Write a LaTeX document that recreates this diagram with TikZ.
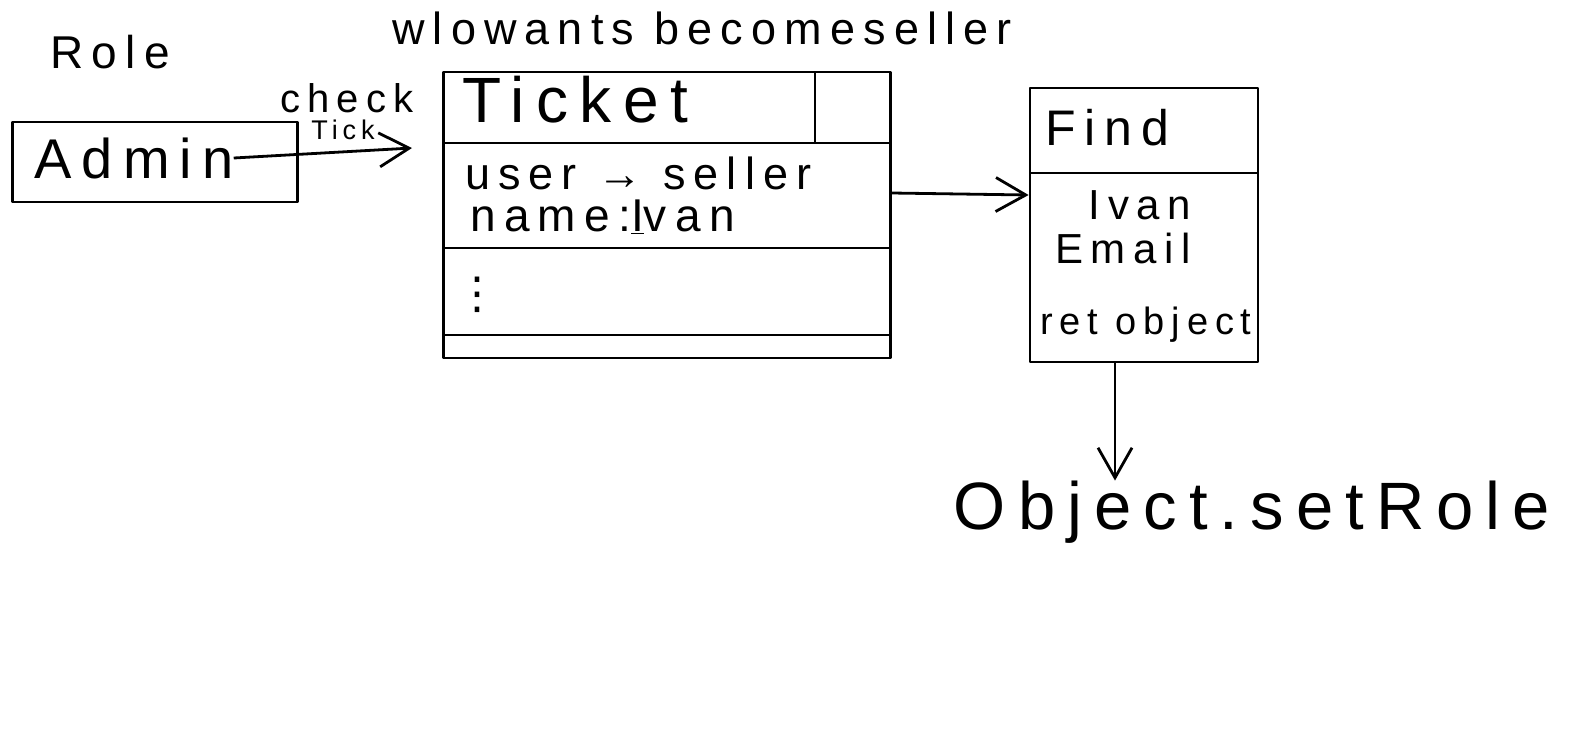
\documentclass[tikz,border=0pt]{standalone}
\usepackage{fontspec}
\newfontfamily\hand[LetterSpace=18]{Liberation Sans}
\newfontfamily\symfont{DejaVu Sans}
\usetikzlibrary{arrows.meta}

\tikzset{
  sketch/.style={line width=2.8pt, line join=round},
  barb/.style={sketch, -{Straight Barb[length=30pt,width=34pt,line width=2.8pt]}},
  boxnode/.style={draw, sketch, rectangle, inner sep=0pt},
  txt/.style={font=\hand\fontsize{#1}{#1}\selectfont, inner sep=0pt},
}

\begin{document}
\begin{tikzpicture}[x=1pt, y=-1pt]
  \useasboundingbox (0,0) rectangle (1583,740);

  % admin side
  \node[txt=46] (role) at (110,52) {Role};
  \node[boxnode, minimum width=285pt, minimum height=80pt] (adminbox) at (155,162) {};
  \node[txt=56] (admin) at (134,158) {Admin};
  \node[txt=40] (check) at (347,98) {check};
  \node[txt=27] (tick) at (343,130) {Tick};
  \coordinate (tickin) at (412,148);
  \draw[barb] (admin.east) -- (tickin);

  % ticket
  \node[txt=45] (who) at (702,28) {wlowants becomeseller};
  \node[boxnode, minimum width=447pt, minimum height=286pt] (ticket) at (667,215) {};
  \draw[sketch] (815,72) -- (815,143);
  \draw[sketch] (443,143) -- (890,143);
  \draw[sketch] (443,248) -- (890,248);
  \draw[sketch] (443,335) -- (890,335);
  \node[txt=64, anchor=west] (tickethead) at (462,100) {Ticket};
  \node[txt=45, anchor=west] (userrow) at (465,173) {user → seller};
  \node[txt=46, anchor=west] (namerow) at (470,217) {name:\underline{I}van};
  \node[inner sep=0pt, font=\symfont\fontsize{44}{44}\selectfont] (dots) at (477,295) {⋮};

  % find
  \node[boxnode, minimum width=228pt, minimum height=274pt] (find) at (1144,225) {};
  \draw[sketch] (1030,173) -- (1258,173);
  \node[txt=50, anchor=west] (findhead) at (1045,128) {Find};
  \node[txt=42] (ivan) at (1140,205) {Ivan};
  \node[txt=42, anchor=west] (email) at (1055,248) {Email};
  \node[txt=38] (ret) at (1146,325) {ret object};
  \draw[barb] ([yshift=22pt]ticket.east) -- ([yshift=30pt]find.west);

  % result
  \node[txt=67] (setrole) at (1252,512) {Object.setRole};
  \draw[barb] ([xshift=-29pt]find.south) -- ([xshift=-29pt]find.south |- setrole.north);
\end{tikzpicture}
\end{document}
